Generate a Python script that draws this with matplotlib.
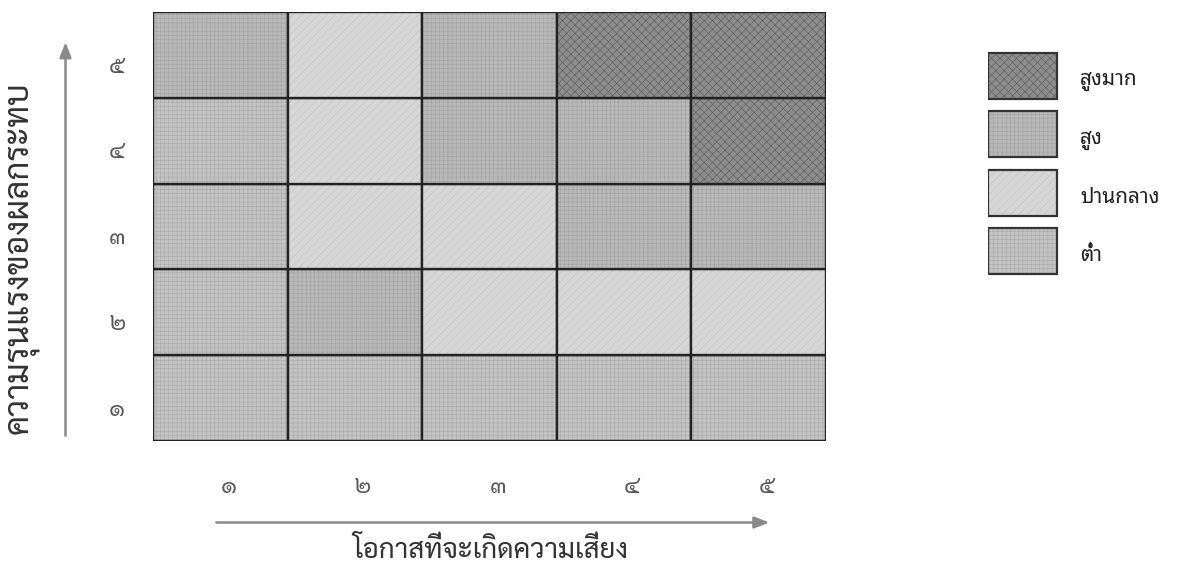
import matplotlib
matplotlib.use("Agg")
import matplotlib.pyplot as plt

# likelihood (x) and impact (y) levels, Thai numerals
x_labels = ["๑", "๒", "๓", "๔", "๕"]
y_labels = ["๑", "๒", "๓", "๔", "๕"]

# risk level names, low -> very high
level_names = ["ต่ำ", "ปานกลาง", "สูง", "สูงมาก"]

# risk level for every cell, rows from impact 1 (bottom) to 5 (top)
risk_grid = [
    [0, 0, 0, 0, 0],
    [0, 2, 1, 1, 1],
    [0, 1, 1, 2, 2],
    [0, 1, 2, 2, 3],
    [2, 1, 2, 3, 3],
]

# styling per level
fill_colors = ["#c3c3c3", "#d6d6d6", "#b8b8b8", "#8d8d8d"]
hatch_colors = ["#aaaaaa", "#c4c4c4", "#a3a3a3", "#5c5c5c"]
hatches = ["++++", "////", "++++", "xxxx"]

x_title = "โอกาสที่จะเกิดความเสี่ยง"
y_title = "ความรุนแรงของผลกระทบ"

thai = ["Sarabun", "DejaVu Sans"]
thai_legend = ["Noto Sans Thai Looped", "DejaVu Sans"]

plt.rcParams["hatch.linewidth"] = 0.4

W, H = 1180, 570
fig = plt.figure(figsize=(W / 100, H / 100), dpi=100)
ax = fig.add_axes([153 / W, 1 - 441 / H, 673 / W, 429 / H])

# draw cells: fill + hatch, then black grid border on top
for r, row in enumerate(risk_grid):
    for c, lvl in enumerate(row):
        ax.bar(c, 1, bottom=r, width=1, color=fill_colors[lvl],
               edgecolor=hatch_colors[lvl], hatch=hatches[lvl], linewidth=0)
        ax.bar(c, 1, bottom=r, width=1, fill=False, edgecolor="#222222",
               linewidth=1.7)

ax.set_xlim(-0.5, len(x_labels) - 0.5)
ax.set_ylim(0, len(y_labels))
for s in ax.spines.values():
    s.set_visible(False)

ax.set_xticks(range(len(x_labels)))
ax.set_xticklabels(x_labels, family=thai, fontsize=17, color="#5a5a5a")
ax.set_yticks([i + 0.5 for i in range(len(y_labels))])
ax.set_yticklabels(y_labels, family=thai, fontsize=17, color="#5a5a5a")
ax.tick_params(axis="x", length=0, pad=25)
ax.tick_params(axis="y", length=0, pad=20)
for t in ax.get_yticklabels():
    t.set_verticalalignment("top")
for t in ax.get_xticklabels():
    t.set_horizontalalignment("left")
    t.set_x(t.get_position()[0] - 0.03)

# axis arrows outside the grid
arrow = dict(arrowstyle="-|>,head_length=0.9,head_width=0.35",
             color="#8a8a8a", lw=1.8)
ax.annotate("", xy=(4.1, -0.95), xytext=(-0.05, -0.95),
            annotation_clip=False, arrowprops=arrow)
ax.annotate("", xy=(-1.15, 4.68), xytext=(-1.15, 0.03),
            annotation_clip=False, arrowprops=arrow)

fig.text(490 / W, 1 - 551 / H, x_title, family=thai, fontsize=20,
         color="#333333", ha="center", va="center")
fig.text(22 / W, 1 - 258 / H, y_title, family=thai, fontsize=24,
         color="#333333", ha="center", va="center", rotation=90)

# legend drawn in its own small axes, highest level first
row_pitch = 58.3
lax = fig.add_axes([988 / W, 1 - (47 + 4 * row_pitch) / H,
                    190 / W, 4 * row_pitch / H])
lax.set_xlim(0, 1)
lax.set_ylim(len(level_names) - 0.5, -0.5)
lax.axis("off")
for i, lvl in enumerate(reversed(range(len(level_names)))):
    lax.bar(0, 0.79, bottom=i - 0.395, width=69 / 190, align="edge",
            color=fill_colors[lvl], edgecolor=hatch_colors[lvl],
            hatch=hatches[lvl], linewidth=0)
    lax.bar(0, 0.79, bottom=i - 0.395, width=69 / 190, align="edge",
            fill=False, edgecolor="#333333", linewidth=1.6)
    lax.text(92 / 190, i + 0.08, level_names[lvl], family=thai_legend,
             fontsize=15, color="#222222", ha="left", va="center")

fig.savefig("out.png", dpi=100)
